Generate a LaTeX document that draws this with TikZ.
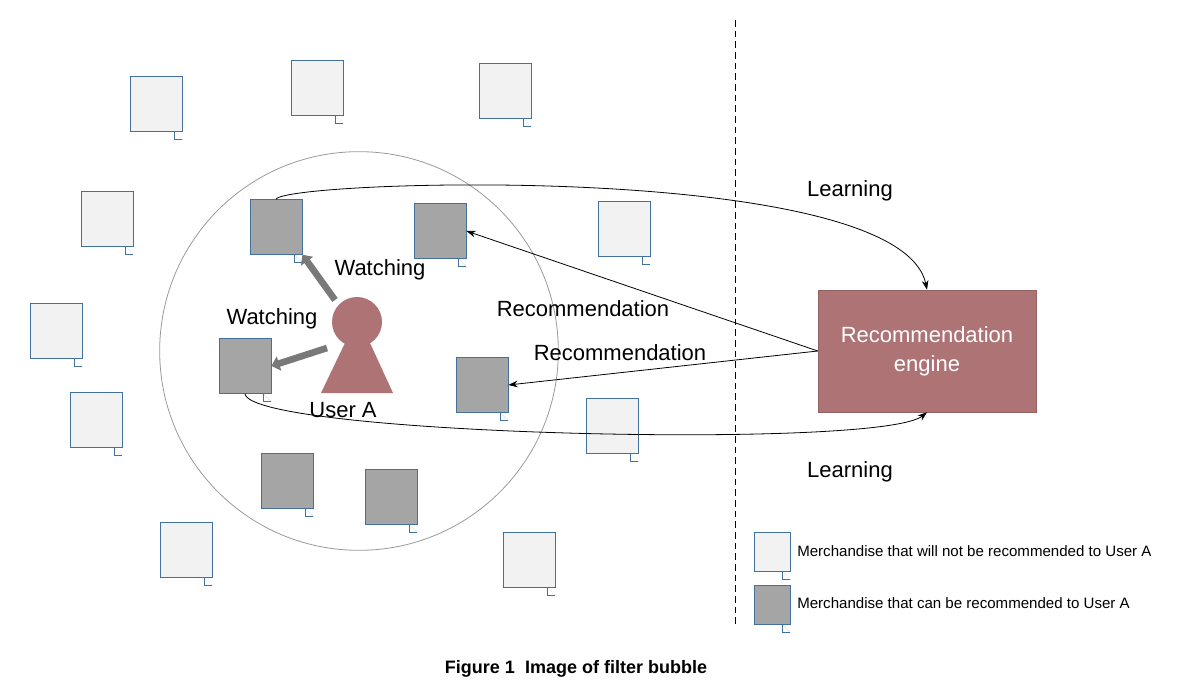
\documentclass[tikz,border=0pt]{standalone}
\usepackage{fontspec}
\setmainfont{Liberation Sans}
\usetikzlibrary{arrows.meta}
\definecolor{lt}{HTML}{F2F2F2}
\definecolor{dk}{HTML}{A5A5A5}
\definecolor{ed}{HTML}{41719C}
\definecolor{rose}{HTML}{AD7375}
\newcommand\mydoc[5][52]{%
 \node[doc,fill=#5,minimum width=#1,minimum height=#1+2] (#2) at (#3,#4) {};
 \fill[#5!80!black] (#2.south east)++(0,8) -- ++(-8,-8) -- cycle;
 \draw[ed,line width=0.5pt] (#2.south east)++(0,8) -- ++(-8,0) -- ++(0,-8);}
\begin{document}
\begin{tikzpicture}[x=0.75pt,y=-0.75pt,
 doc/.style={draw=ed,line width=0.6pt,inner sep=0,minimum width=52*0.75pt,
   path picture={}},
 lbl/.style={font=\fontsize{16.5}{18}\selectfont,inner sep=0},
 thin/.style={line width=0.6pt,-{Stealth[length=7pt,width=5pt]}},
 thick/.style={draw=gray!95!black,line width=5pt,-{Triangle[length=6pt,width=11pt]}}]
\useasboundingbox (0,0) rectangle (1195,691);
\tikzset{every node/.append style={}}
\def\S{0.75}
% docs
\foreach \n/\x/\y in {l1/156/104,l2/317/88,l3/505/91,l4/107/219,l5/624/229,l6/56/331,l7/96/420,l8/612/426,l9/186/550,l10/529/560}{\mydoc[39]{\n}{\x}{\y}{lt}}
\foreach \n/\x/\y in {d1/276/227,d2/440/231,d3/245/366,d4/482/385,d5/287/481,d6/391/497}{\mydoc[39]{\n}{\x}{\y}{dk}}
\mydoc[27]{g1}{772}{552}{lt}
\mydoc[27]{g2}{772}{605}{dk}
\node[lbl,anchor=west,font=\fontsize{11.3}{13}\selectfont] (t1) at (797,551) {Merchandise that will not be recommended to User A};
\node[lbl,anchor=west,font=\fontsize{11.3}{13}\selectfont] (t2) at (797,603) {Merchandise that can be recommended to User A};
% bubble
\node[draw=gray!80,line width=0.6pt,circle,minimum size=299pt] (bub) at (359,351) {};
\draw[dash pattern=on 5pt off 3pt,line width=0.6pt] (735,20) coordinate (da) -- (735,625) coordinate (db);
% user
\node[fill=rose,circle,minimum size=37.5pt,inner sep=0] (head) at (357,322) {};
\fill[rose] (345,343) -- (370,343) -- (393,393) -- (321,393) -- cycle;
\coordinate (ub) at (357,393);
\draw[thick] (335,300) -- (d1.south east);
\draw[thick] (327,348) -- (d3.east);
% engine
\node[fill=rose,draw=rose!85!black,minimum width=163.5pt,minimum height=91.5pt,text=white,align=center,lbl,font=\fontsize{16.5}{22}\selectfont] (eng) at (927,351) {Recommendation\\engine};
% connectors
\draw[thin] (d1.north) .. controls (285,180) and (900,160) .. (eng.north);
\draw[thin] (d3.south) .. controls (250,435) and (880,450) .. (eng.south);
\draw[thin] (eng.west) -- (d2.east);
\draw[thin] (eng.west) -- (d4.east);
% labels
\node[lbl] (w1) at (380,270) {Watching};
\node[lbl] (w2) at (272,319) {Watching};
\node[lbl] (ua) at (343,410) {User A};
\node[lbl] (r1) at (583,309) {Recommendation};
\node[lbl] (r2) at (620,353) {Recommendation};
\node[lbl] (le1) at (850,191) {Learning};
\node[lbl] (le2) at (850,472) {Learning};
\node[lbl,font=\bfseries\fontsize{13.5}{15}\selectfont] (cap) at (576,669) {Figure 1\ \ Image of filter bubble};
\end{tikzpicture}
\end{document}
